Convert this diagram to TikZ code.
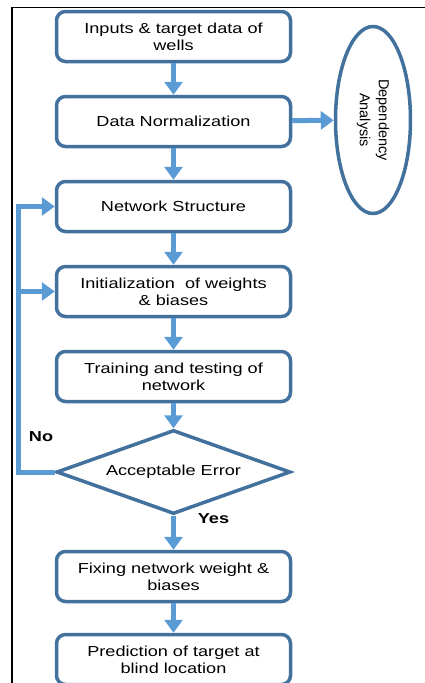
\documentclass[tikz,border=0pt]{standalone}
\usepackage{fontspec}
\setmainfont[FakeStretch=1.25]{Liberation Sans}
\newfontfamily\ellfont{Liberation Sans}
\usetikzlibrary{arrows.meta,positioning,shapes.geometric}
\definecolor{fcline}{HTML}{41719C}
\definecolor{fcarrow}{HTML}{5B9BD5}
\tikzset{
  box/.style={draw=fcline,fill=white,rounded corners=9pt,align=center,line width=3.5pt,
              minimum width=234pt,minimum height=50pt,inner sep=2pt,
              font=\fontsize{14.5}{17}\selectfont},
  dec/.style={draw=fcline,fill=white,diamond,aspect=2.9,align=center,line width=3.5pt,
              minimum width=234pt,minimum height=84pt,inner sep=0pt,
              font=\fontsize{14.5}{17}\selectfont},
  ell/.style={draw=fcline,fill=white,ellipse,align=center,line width=3.5pt,
              minimum width=187pt,minimum height=75pt,inner sep=0pt,
              font=\ellfont\fontsize{14.5}{19}\selectfont},
  ar/.style={-{Triangle[length=13pt,width=18pt]},line width=5pt,fcarrow},
  lbl/.style={font=\fontsize{14.5}{17}\selectfont\bfseries,inner sep=0pt},
}
\begin{document}
\begin{tikzpicture}[x=1pt,y=-1pt,node distance=31.5pt]
    \useasboundingbox (0,0) rectangle (424,683);
    \draw[line width=1.6pt] (430,7.5) -- (12,7.5) -- (12,690);
    \node[box] (in) at (173.5,36.5) {Inputs \& target data of\\wells};
    \node[box,below=of in] (nm) {Data Normalization};
    \node[box,below=of nm] (ns) {Network Structure};
    \node[box,below=of ns] (iw) {Initialization\ \ of weights\\\& biases};
    \node[box,below=of iw] (tt) {Training and testing of\\network};
    \node[dec,below=25pt of tt] (ae) {Acceptable Error};
    \node[box,below=34pt of ae] (fx) {Fixing network weight \&\\biases};
    \node[box,below=29.5pt of fx] (pr) {Prediction of target at\\blind location};
    \node[ell,rotate=-90] (da) at (373,120) {Dependency\\Analysis};
    \node[lbl] (no) at (41,437) {No};
    \node[lbl] (yes) at (213.5,519) {Yes};
    \coordinate (lx) at (18.5,0);
    \foreach \a/\b in {in/nm,nm/ns,ns/iw,iw/tt,tt/ae,ae/fx,fx/pr}
      {\draw[ar] (\a) -- (\b);}
    \draw[ar] (nm) -- (da);
    \draw[ar] (ae.west) -- (ae.west -| lx) |- (ns.west);
    \draw[ar] (iw.west -| lx) -- (iw.west);
\end{tikzpicture}
\end{document}
